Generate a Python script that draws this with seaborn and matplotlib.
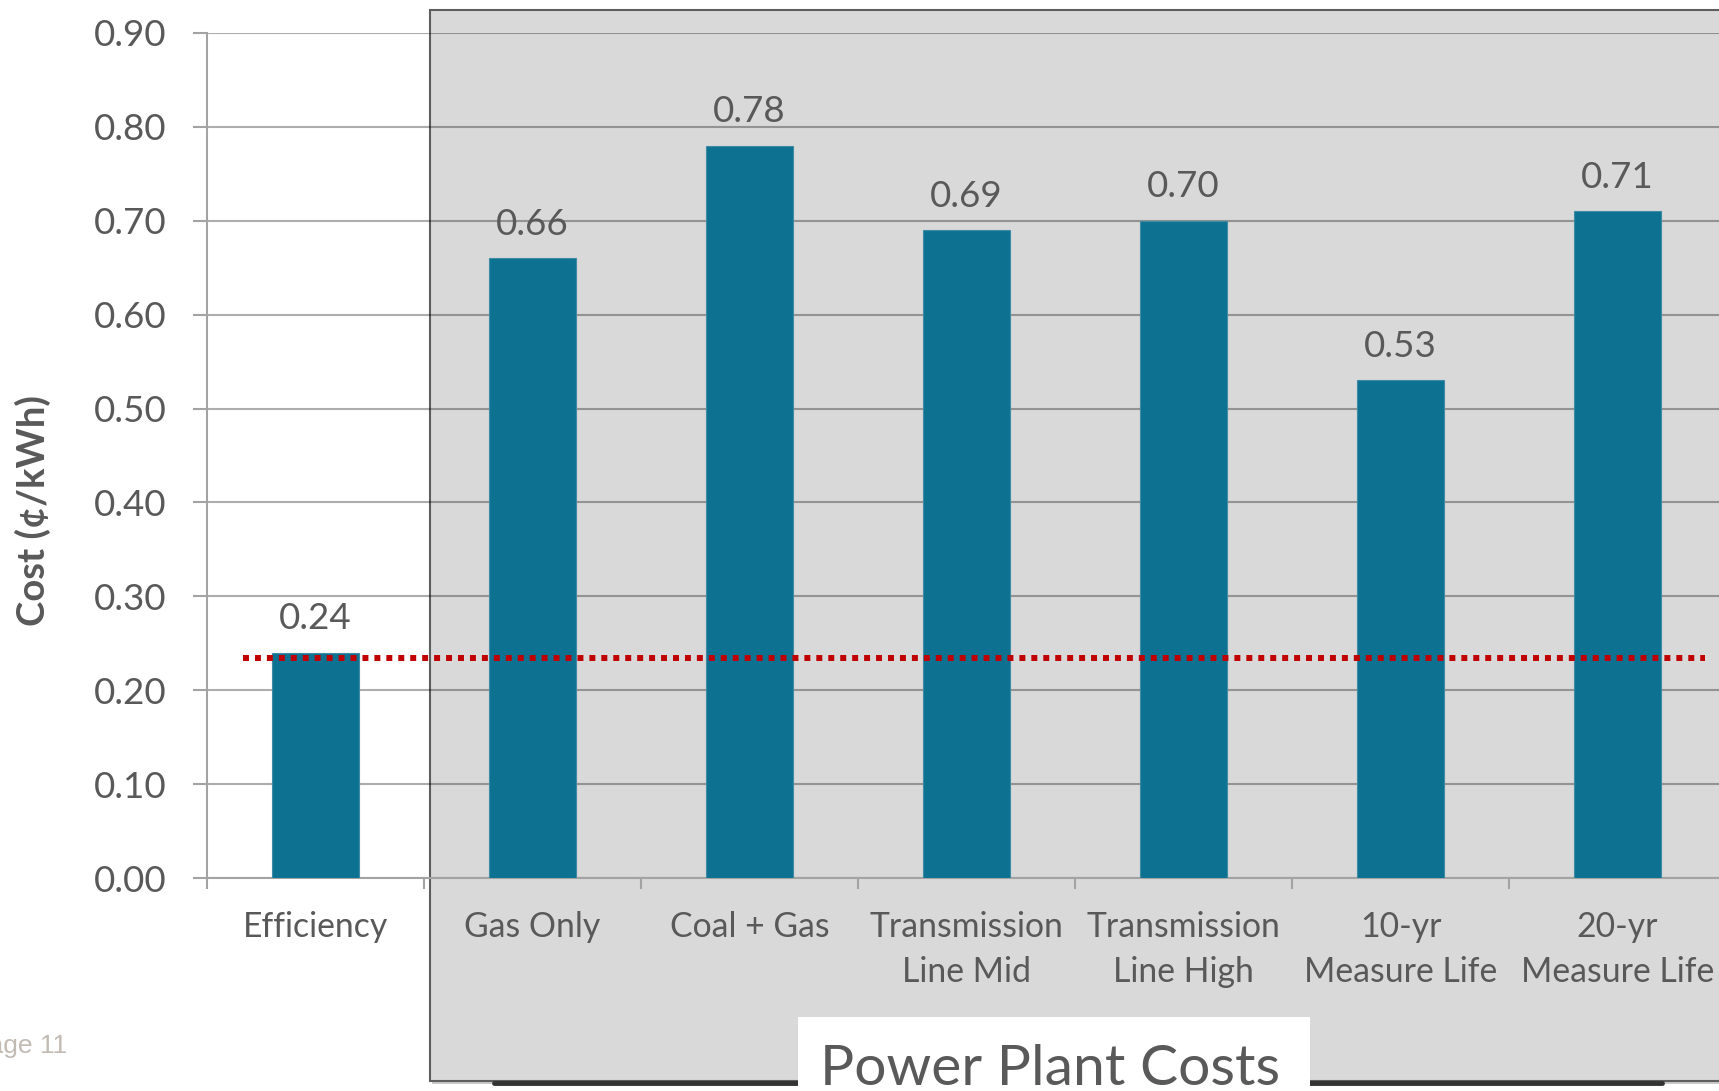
import numpy as np
import pandas as pd
import matplotlib
matplotlib.use("Agg")
import matplotlib.pyplot as plt
from matplotlib.patches import Rectangle
from matplotlib.lines import Line2D
import seaborn as sns

categories = ["Efficiency", "Gas Only", "Coal + Gas", "Transmission\nLine Mid",
              "Transmission\nLine High", "10-yr\nMeasure Life", "20-yr\nMeasure Life"]
costs = [0.24, 0.66, 0.78, 0.69, 0.70, 0.53, 0.71]
efficiency_exact = 0.234   # dotted reference line
y_ticks = [0.0, 0.1, 0.2, 0.3, 0.4, 0.5, 0.6, 0.7, 0.8, 0.9]
group_label = "Power Plant Costs"
page_label = "Page 11"

BAR_COLOR = "#0D7291"
TEXT_COLOR = "#595959"
GRID_COLOR = "#A3A3A3"

sns.set_style("white")
plt.rcParams['font.family'] = ['Lato', 'DejaVu Sans']

W, H = 1719, 1091
fig = plt.figure(figsize=(W / 100, H / 100), dpi=100)
fig.patch.set_facecolor("white")

def px(x, y):
    # pixel position (top-left origin) -> figure fraction
    return x / W, 1 - y / H

# grey "power plant" panel behind the chart
x0, y0 = px(430, 1081)
x1, y1 = px(1740, 10)
fig.patches.append(Rectangle((x0 + 2 / W, y0 - 3 / H), x1 - x0, y1 - y0, transform=fig.transFigure,
                             facecolor="#C8C8C8", edgecolor="none", zorder=0.2))
fig.patches.append(Rectangle((x0, y0), x1 - x0, y1 - y0, transform=fig.transFigure,
                             facecolor="#D9D9D9", edgecolor="#5E5E5E", linewidth=1.5, zorder=0.3))
lx0, ly = px(494, 1083)
lx1, _ = px(1662, 1083)
fig.lines.append(Line2D([lx0, lx1], [ly, ly], transform=fig.transFigure,
                        color="#333333", linewidth=3.5, zorder=0.4))

ax = fig.add_axes([207 / W, (H - 878) / H, 1519 / W, 845 / H])
ax.set_zorder(1)
ax.patch.set_alpha(0)

df = pd.DataFrame({"category": categories, "cost": costs})
sns.barplot(data=df, x="category", y="cost", color=BAR_COLOR, width=0.4,
            saturation=1, edgecolor="#3F8AA5", linewidth=0.8, ax=ax, zorder=3)

ax.set_xlim(-0.5, len(categories) - 0.5)
ax.set_ylim(0, 0.9)
ax.set_yticks(y_ticks)
ax.set_yticklabels([f"{v:.2f}" for v in y_ticks])
ax.set_axisbelow(True)
ax.yaxis.grid(True, color="black", alpha=0.32, linewidth=1.5)
ax.xaxis.grid(False)

for s in ["top", "right"]:
    ax.spines[s].set_visible(False)
for s in ["left", "bottom"]:
    ax.spines[s].set_color(GRID_COLOR)
    ax.spines[s].set_linewidth(1.5)

ax.tick_params(axis="y", length=10, width=1.5, color=GRID_COLOR, pad=19,
               labelsize=26.5, labelcolor=TEXT_COLOR, left=True)
ax.tick_params(axis="x", which="major", length=0, pad=24,
               labelsize=24.3, labelcolor=TEXT_COLOR)
ax.set_xticks(np.arange(len(categories) + 1) - 0.5, minor=True)
ax.tick_params(axis="x", which="minor", length=8, width=1.5, color=GRID_COLOR, bottom=True)
for lab in ax.get_xticklabels():
    lab.set_linespacing(1.48)

ax.set_xlabel("")
ax.set_ylabel("")
yx, yy = px(33, 511)
fig.text(yx, yy, "Cost (¢/kWh)", rotation=90, ha="center", va="center",
         fontsize=27.5, fontweight="bold", color=TEXT_COLOR)

for i, v in enumerate(costs):
    ax.annotate(f"{v:.2f}", (i, v), xytext=(0, 17), textcoords="offset points",
                ha="center", va="baseline", fontsize=26.5, color=TEXT_COLOR)

ax.axhline(efficiency_exact, xmin=36 / 1519, xmax=1498 / 1519, color="#C00000",
           linewidth=4.3, linestyle=(0, (1, 1)), dash_capstyle="butt", zorder=4)

# white label box at the bottom of the panel
bx0, by0 = px(798, 1100)
bx1, by1 = px(1310, 1017)
fig.patches.append(Rectangle((bx0, by0), bx1 - bx0, by1 - by0, transform=fig.transFigure,
                             facecolor="white", edgecolor="none", zorder=2))
tx, ty = px(1050, 1085)
fig.text(tx, ty, group_label, ha="center", va="baseline", fontsize=41,
         color=TEXT_COLOR, zorder=3)

px_, py_ = px(67, 1053)
fig.text(px_, py_, page_label, ha="right", va="baseline", fontsize=19,
         color="#C2BBB3", family=["Liberation Sans", "DejaVu Sans"])

fig.savefig("out.png", dpi=100)
